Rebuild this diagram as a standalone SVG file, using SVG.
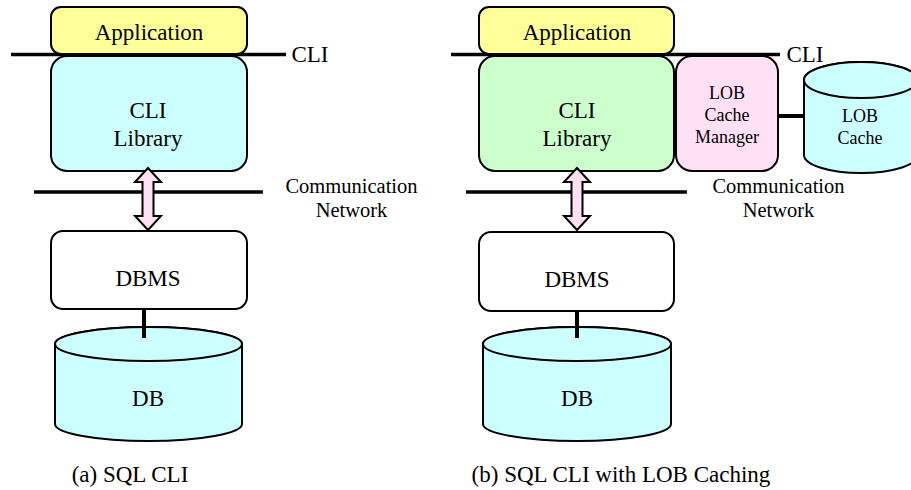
<svg xmlns="http://www.w3.org/2000/svg" width="911" height="490" viewBox="0 0 911 490">
<style>
text{font-family:"Liberation Serif",Tinos,"Times New Roman","DejaVu Serif",serif;fill:#000;text-anchor:middle}
.t23{font-size:23px}
.t21{font-size:20.5px}
.t18{font-size:18px}
.box{stroke:#000;stroke-width:2}
.bar{stroke:#000;stroke-width:3.5;fill:none}
.link{stroke:#000;stroke-width:4;fill:none}
.arrow{fill:#FFE0F4;stroke:#000;stroke-width:2;stroke-linejoin:miter}
.cyl{fill:#CCFFFF;stroke:#000;stroke-width:2}
</style>
<defs>
<path id="dbl" d="M0,0 L13,14 L5.5,14 L5.5,48 L13,48 L0,62 L-13,48 L-5.5,48 L-5.5,14 L-13,14 Z"/>
</defs>
<rect width="911" height="490" fill="#fff"/>
<g id="connectors">
<line class="bar" x1="11" y1="54.5" x2="286" y2="54.5"/>
<line class="bar" x1="34" y1="192" x2="263" y2="192"/>
<line class="link" x1="144" y1="309" x2="144" y2="338"/>
<line class="bar" x1="451" y1="54.5" x2="780" y2="54.5"/>
<line class="bar" x1="466" y1="192" x2="687" y2="192"/>
<line class="link" x1="577" y1="311" x2="577" y2="338"/>
<line class="link" x1="778" y1="116" x2="806" y2="116"/>
</g>
<g id="a-application"><rect class="box" x="51" y="7" width="196" height="47" rx="10" fill="#FFFF99"/><text class="t23" x="149" y="40">Application</text></g>
<g id="a-cli-label"><text class="t23" x="310" y="62">CLI</text></g>
<g id="a-cli-library"><rect class="box" x="51" y="56" width="196" height="115" rx="16" fill="#CCFFFF"/><text class="t23" x="148" y="118">CLI</text><text class="t23" x="148" y="146">Library</text></g>
<g id="a-network-label"><text class="t21" x="351.5" y="193">Communication</text><text class="t21" x="351.5" y="217">Network</text></g>
<g id="a-arrow"><use href="#dbl" class="arrow" x="148" y="168"/></g>
<g id="a-dbms"><rect class="box" x="51" y="231" width="196" height="78" rx="12" fill="#fff"/><text class="t23" x="148" y="286">DBMS</text></g>
<g id="a-db"><path class="cyl" d="M55,344 L55,424 A93.5,17 0 0 0 242,424 L242,344 A93.5,17 0 0 0 55,344 Z"/><path class="cyl" d="M55,344 A93.5,17 0 0 0 242,344 A93.5,17 0 0 0 55,344 Z"/><line class="link" x1="144" y1="327" x2="144" y2="338"/><text class="t23" x="148" y="406">DB</text></g>
<g id="a-caption"><text class="t23" x="130" y="482">(a) SQL CLI</text></g>
<g id="b-application"><rect class="box" x="479" y="7" width="195" height="47" rx="10" fill="#FFFF99"/><text class="t23" x="577" y="40">Application</text></g>
<g id="b-cli-label"><text class="t23" x="805" y="62">CLI</text></g>
<g id="b-cli-library"><rect class="box" x="479" y="56" width="195" height="115" rx="16" fill="#CCFFCC"/><text class="t23" x="577" y="118">CLI</text><text class="t23" x="577" y="146">Library</text></g>
<g id="b-lob-manager"><rect class="box" x="676" y="56" width="102" height="115" rx="16" fill="#FFE0F4"/><text class="t18" x="727" y="99">LOB</text><text class="t18" x="727" y="121">Cache</text><text class="t18" x="727" y="143">Manager</text></g>
<g id="b-lob-cache"><path class="cyl" d="M804,80 L804,155 A57,18 0 0 0 918,155 L918,80 A57,18 0 0 0 804,80 Z"/><path class="cyl" d="M804,80 A57,18 0 0 0 918,80 A57,18 0 0 0 804,80 Z"/><text class="t18" x="860" y="122">LOB</text><text class="t18" x="860" y="144">Cache</text></g>
<g id="b-network-label"><text class="t21" x="778.5" y="193">Communication</text><text class="t21" x="778.5" y="217">Network</text></g>
<g id="b-arrow"><use href="#dbl" class="arrow" x="577" y="168"/></g>
<g id="b-dbms"><rect class="box" x="479" y="232" width="195" height="79" rx="12" fill="#fff"/><text class="t23" x="577" y="287">DBMS</text></g>
<g id="b-db"><path class="cyl" d="M483,344 L483,424 A94,17 0 0 0 671,424 L671,344 A94,17 0 0 0 483,344 Z"/><path class="cyl" d="M483,344 A94,17 0 0 0 671,344 A94,17 0 0 0 483,344 Z"/><line class="link" x1="577" y1="327" x2="577" y2="338"/><text class="t23" x="577" y="406">DB</text></g>
<g id="b-caption"><text class="t23" x="621" y="482">(b) SQL CLI with LOB Caching</text></g>
</svg>
